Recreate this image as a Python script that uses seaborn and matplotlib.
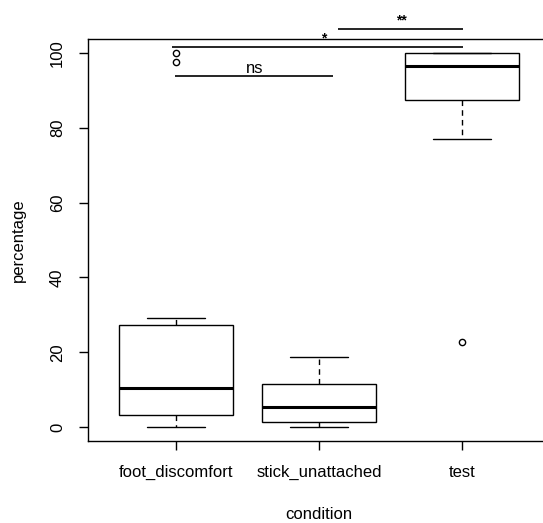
import numpy as np
import pandas as pd
import matplotlib
matplotlib.use("Agg")
import matplotlib.pyplot as plt
import seaborn as sns

conditions = ["foot_discomfort", "stick_unattached", "test"]
foot_discomfort = [0, 1, 2.5, 3.3, 5, 8, 10.5, 15, 22, 27.3, 29.1, 97.6, 100]
stick_unattached = [0, 0.5, 1.25, 3, 5.3, 8, 11.6, 14, 18.7]
test = [22.8, 76.9, 87.4, 92, 96.4, 98, 100, 100, 100]
y_ticks = [0, 20, 40, 60, 80, 100]

# significance brackets: (start, end, level, label, label_x, label_y)
brackets = [
    (-0.01, 1.10, 93.9, "ns", 0.55, 94.7),
    (-0.03, 2.01, 101.6, "*", 1.03, 102.7),
    (1.13, 2.01, 106.5, "**", 1.58, 107.7),
]

df = pd.DataFrame({
    "condition": (["foot_discomfort"] * len(foot_discomfort)
                  + ["stick_unattached"] * len(stick_unattached)
                  + ["test"] * len(test)),
    "percentage": foot_discomfort + stick_unattached + test,
})

sns.set_style("ticks")
plt.rcParams["font.family"] = ["Liberation Sans", "DejaVu Sans"]
plt.rcParams["axes.labelcolor"] = "black"
plt.rcParams["text.color"] = "black"

W, H = 543, 523
fig = plt.figure(figsize=(W / 100, H / 100), dpi=100)
ax = fig.add_axes([88 / W, (H - 441) / H, 462.6 / W, 402 / H])

sns.boxplot(
    data=df, x="condition", y="percentage", order=conditions, ax=ax,
    color="white", linecolor="black", linewidth=1.0, width=0.8, saturation=1,
    whiskerprops=dict(linestyle=(0, (4, 3)), color="black", linewidth=1.0),
    capprops=dict(color="black", linewidth=1.0),
    medianprops=dict(color="black", linewidth=2.2),
    boxprops=dict(edgecolor="black", facecolor="white", linewidth=1.0),
    flierprops=dict(marker="o", markerfacecolor="white", markeredgecolor="black",
                    markersize=4.5, markeredgewidth=1.0),
)

ax.set_xlim(-0.615, 2.62)
ax.set_ylim(-3.74, 103.74)
ax.set_yticks(y_ticks)
ax.set_yticklabels([str(v) for v in y_ticks], rotation=90, va="center")
for sp in ax.spines.values():
    sp.set_linewidth(1.0)
    sp.set_color("black")
ax.tick_params(axis="both", direction="out", length=6.5, width=1.0,
               labelsize=12, colors="black")
ax.tick_params(axis="y", pad=10)
ax.tick_params(axis="x", pad=11)

ax.set_xlabel("condition", fontsize=12, va="center", color="black")
ax.set_ylabel("percentage", fontsize=12, va="center", color="black")
ax.xaxis.set_label_coords(0.5, -0.184)
ax.yaxis.set_label_coords(-0.151, 0.5)

for x1, x2, yv, lab, lx, ly in brackets:
    is_star = "*" in lab
    ax.plot([x1, x2], [yv, yv], color="black", linewidth=1.2, clip_on=False,
            solid_capstyle="butt")
    ax.text(lx, ly, lab, ha="center", va="baseline", color="black",
            fontsize=10 if is_star else 12,
            fontweight="bold" if is_star else "normal", clip_on=False)

fig.savefig("out.png", dpi=100)
